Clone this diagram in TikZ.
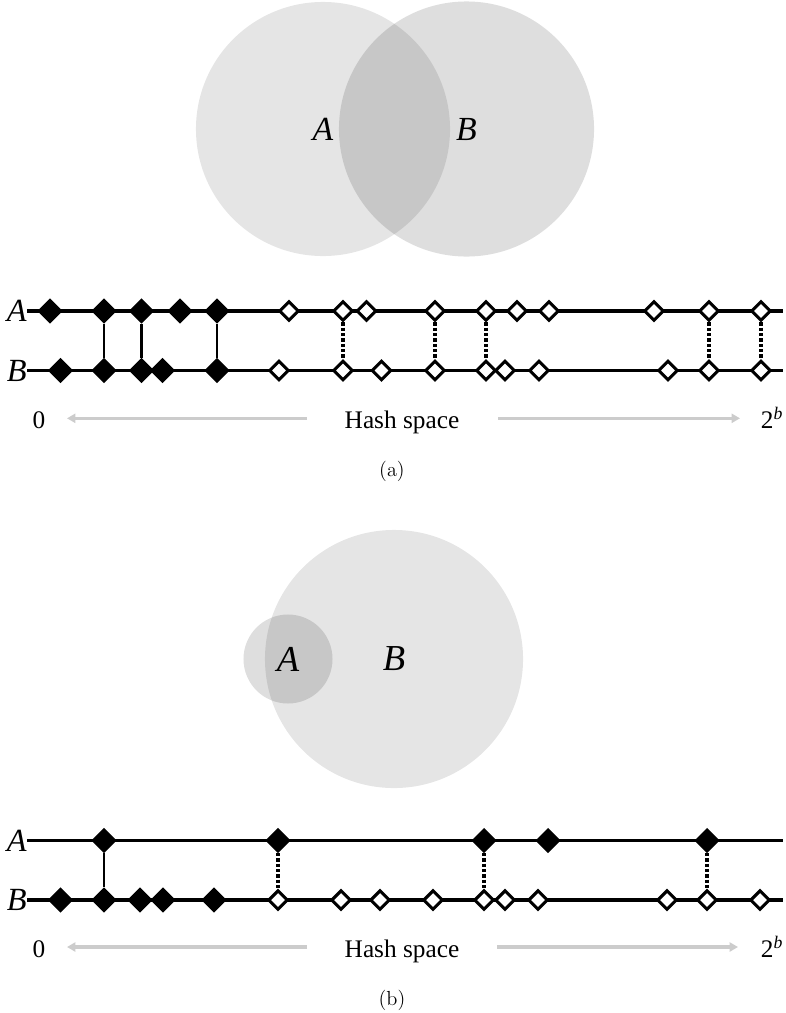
\documentclass[tikz,border=0pt]{standalone}
\usepackage{fontspec}
\newfontfamily\timesfont{Liberation Serif}
\usetikzlibrary{positioning, shapes.geometric, arrows.meta}

\tikzset{
    insketch/.style={diamond, draw, fill=black, line width=0.8pt, inner sep=0pt, minimum size=17pt},
    outsketch/.style={diamond, draw, fill=white, line width=2.2pt, inner sep=0pt, minimum size=14pt},
    hashline/.style={line width=2.3pt},
    match/.style={line width=2pt},
    nomatch/.style={line width=2.4pt, dash pattern=on 2.4pt off 1.4pt},
    spacearrow/.style={line width=2.3pt, gray!40, -{Triangle[length=6pt,width=6.5pt]}},
    rowlabel/.style={anchor=east, inner sep=0pt, font=\timesfont\itshape\fontsize{23}{27}\selectfont},
    setlabel/.style={circle, inner sep=0pt, fill=black, text opacity=1, font=\timesfont\itshape\fontsize{24}{28}\selectfont},
    axistext/.style={anchor=base, font=\timesfont\fontsize{18}{21}\selectfont},
    subcap/.style={font=\fontsize{14.5}{17}\selectfont},
}

\begin{document}
\begin{tikzpicture}[x=0.025cm, y=-0.025cm]
    \useasboundingbox (0,0) rectangle (786,1013);

    % (a) two sets of the same size
    \node[setlabel, fill opacity=0.1, minimum size=6.35cm] (set A a) at (323,129) {A};
    \node[setlabel, fill opacity=0.13, minimum size=6.375cm] (set B a) at (466.5,129) {B};

    \node[rowlabel] (lab A a) at (27,311) {A};
    \node[rowlabel] (lab B a) at (27,370.5) {B};
    \coordinate (end A a) at (783,311);
    \coordinate (end B a) at (783,370.5);
    \draw[hashline] (lab A a.east) -- (end A a);
    \draw[hashline] (lab B a.east) -- (end B a);

    \node[insketch] (aA1) at (50,311) {};
    \node[insketch] (aA2) at (104,311) {};
    \node[insketch] (aA3) at (141.5,311) {};
    \node[insketch] (aA4) at (180,311) {};
    \node[insketch] (aA5) at (217,311) {};
    \node[outsketch] (aA6) at (289,311) {};
    \node[outsketch] (aA7) at (343,311) {};
    \node[outsketch] (aA8) at (366.5,311) {};
    \node[outsketch] (aA9) at (435,311) {};
    \node[outsketch] (aA10) at (486,311) {};
    \node[outsketch] (aA11) at (517,311) {};
    \node[outsketch] (aA12) at (549,311) {};
    \node[outsketch] (aA13) at (654,311) {};
    \node[outsketch] (aA14) at (709,311) {};
    \node[outsketch] (aA15) at (761,311) {};

    \node[insketch] (aB1) at (60.5,370.5) {};
    \node[insketch] (aB2) at (104,370.5) {};
    \node[insketch] (aB3) at (141.5,370.5) {};
    \node[insketch] (aB4) at (162.5,370.5) {};
    \node[insketch] (aB5) at (217,370.5) {};
    \node[outsketch] (aB6) at (279,370.5) {};
    \node[outsketch] (aB7) at (343,370.5) {};
    \node[outsketch] (aB8) at (381.5,370.5) {};
    \node[outsketch] (aB9) at (435,370.5) {};
    \node[outsketch] (aB10) at (486,370.5) {};
    \node[outsketch] (aB11) at (505,370.5) {};
    \node[outsketch] (aB12) at (539,370.5) {};
    \node[outsketch] (aB13) at (668,370.5) {};
    \node[outsketch] (aB14) at (709,370.5) {};
    \node[outsketch] (aB15) at (761,370.5) {};

    \draw[match] (aA2) -- (aB2);
    \draw[match] (aA3) -- (aB3);
    \draw[match] (aA5) -- (aB5);
    \draw[nomatch] (aA7) -- (aB7);
    \draw[nomatch] (aA9) -- (aB9);
    \draw[nomatch] (aA10) -- (aB10);
    \draw[nomatch] (aA14) -- (aB14);
    \draw[nomatch] (aA15) -- (aB15);

    \node[axistext] (zero a) at (39,428) {0};
    \node[axistext] (hash a) at (402,428) {Hash space};
    \node[axistext] (top a) at (772,428) {2\textsuperscript{\itshape b}};
    \coordinate (left a) at (307,418.3);
    \coordinate (leftend a) at (67,418.3);
    \coordinate (right a) at (498,418.3);
    \coordinate (rightend a) at (740,418.3);
    \draw[spacearrow] (left a) -- (leftend a);
    \draw[spacearrow] (right a) -- (rightend a);

    \node[subcap] (cap a) at (392,471) {(a)};

    % (b) a small set inside a large one
    \node[setlabel, fill opacity=0.1, minimum size=6.45cm, font=\timesfont\itshape\fontsize{26}{30}\selectfont] (set B b) at (394,659) {B};
    \node[setlabel, fill opacity=0.13, minimum size=2.225cm, font=\timesfont\itshape\fontsize{26}{30}\selectfont] (set A b) at (288,659) {A};

    \node[rowlabel] (lab A b) at (27,840.5) {A};
    \node[rowlabel] (lab B b) at (27,900) {B};
    \coordinate (end A b) at (783,840.5);
    \coordinate (end B b) at (783,900);
    \draw[hashline] (lab A b.east) -- (end A b);
    \draw[hashline] (lab B b.east) -- (end B b);

    \node[insketch] (bA1) at (104,840.5) {};
    \node[insketch] (bA2) at (278,840.5) {};
    \node[insketch] (bA3) at (484,840.5) {};
    \node[insketch] (bA4) at (548,840.5) {};
    \node[insketch] (bA5) at (707,840.5) {};

    \node[insketch] (bB1) at (60.5,900) {};
    \node[insketch] (bB2) at (104,900) {};
    \node[insketch] (bB3) at (140,900) {};
    \node[insketch] (bB4) at (163,900) {};
    \node[insketch] (bB5) at (214,900) {};
    \node[outsketch] (bB6) at (278,900) {};
    \node[outsketch] (bB7) at (341,900) {};
    \node[outsketch] (bB8) at (380,900) {};
    \node[outsketch] (bB9) at (433,900) {};
    \node[outsketch] (bB10) at (484,900) {};
    \node[outsketch] (bB11) at (505,900) {};
    \node[outsketch] (bB12) at (538,900) {};
    \node[outsketch] (bB13) at (667,900) {};
    \node[outsketch] (bB14) at (707,900) {};
    \node[outsketch] (bB15) at (760,900) {};

    \draw[match] (bA1) -- (bB2);
    \draw[nomatch] (bA2) -- (bB6);
    \draw[nomatch] (bA3) -- (bB10);
    \draw[nomatch] (bA5) -- (bB14);

    \node[axistext] (zero b) at (39,957) {0};
    \node[axistext] (hash b) at (402,957) {Hash space};
    \node[axistext] (top b) at (772,957) {2\textsuperscript{\itshape b}};
    \coordinate (left b) at (307,947);
    \coordinate (leftend b) at (67,947);
    \coordinate (right b) at (497,947);
    \coordinate (rightend b) at (738,947);
    \draw[spacearrow] (left b) -- (leftend b);
    \draw[spacearrow] (right b) -- (rightend b);

    \node[subcap] (cap b) at (392,1000) {(b)};
\end{tikzpicture}
\end{document}
